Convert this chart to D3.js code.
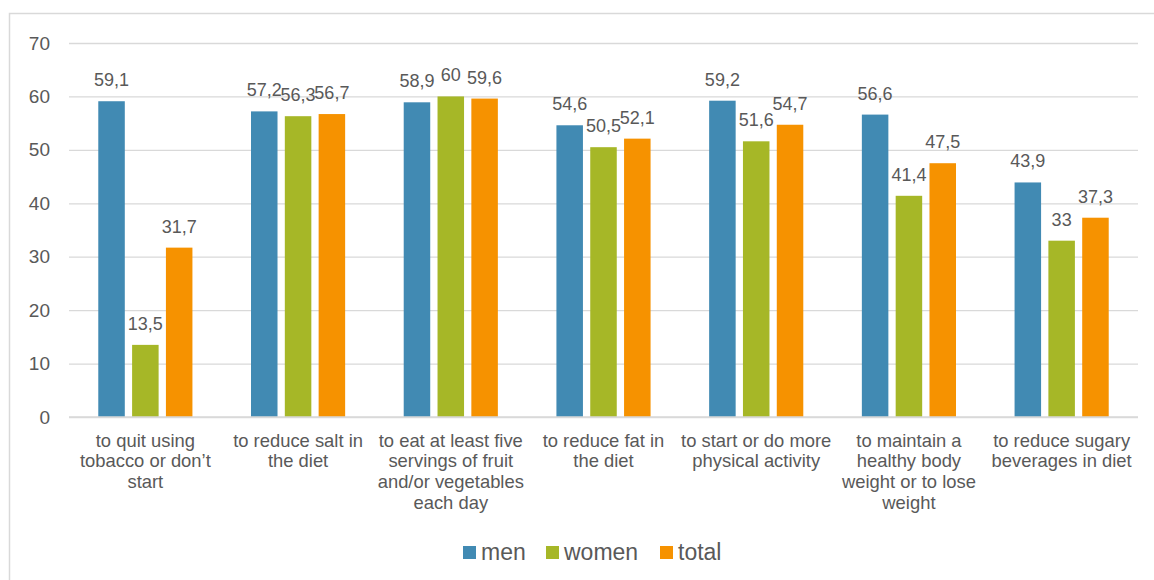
<!DOCTYPE html>
<html><head><meta charset="utf-8">
<script src="https://cdn.jsdelivr.net/npm/d3@7"></script>
<style>
html,body{margin:0;padding:0;background:#fff;}
svg{display:block;font-family:"Liberation Sans",Arial,sans-serif;}
</style></head>
<body>
<script>
const categories = [
  ["to quit using","tobacco or don’t","start"],
  ["to reduce salt in","the diet"],
  ["to eat at least five","servings of fruit","and/or vegetables","each day"],
  ["to reduce fat in","the diet"],
  ["to start or do more","physical activity"],
  ["to maintain a","healthy body","weight or to lose","weight"],
  ["to reduce sugary","beverages in diet"]
];
const seriesNames = ["men","women","total"];
const menValues   = [59.1, 57.2, 58.9, 54.6, 59.2, 56.6, 43.9];
const womenValues = [13.5, 56.3, 60, 50.5, 51.6, 41.4, 33];
const totalValues = [31.7, 56.7, 59.6, 52.1, 54.7, 47.5, 37.3];
const yTicks = [0,10,20,30,40,50,60,70];
const colors = ["#418AB3","#A6B727","#F69200"];

const W = 1154, H = 580;
const svg = d3.select("body").append("svg").attr("width",W).attr("height",H);
const textColor = "#595959";
const gridColor = "#D9D9D9";

// outer border
svg.append("rect").attr("x",9.5).attr("y",13.5).attr("width",W+20).attr("height",H+20)
  .attr("fill","none").attr("stroke",gridColor).attr("stroke-width",1.5);

const plotL = 69, plotR = 1138, plotT = 43, plotB = 417;
const y = d3.scaleLinear().domain([0,70]).range([plotB, plotT]);
const x0 = d3.scaleBand().domain(d3.range(categories.length)).range([plotL, plotR]).padding(0);
const bw = x0.bandwidth();
const groupW = bw * 0.6165;
const x1 = d3.scaleBand().domain(seriesNames).range([0, groupW]).paddingInner(0.216).paddingOuter(0);

// gridlines
const yAxis = d3.axisLeft(y).tickValues(yTicks).tickSize(-(plotR-plotL)).tickPadding(19).tickFormat(d=>String(d));
const ga = svg.append("g").attr("transform",`translate(${plotL},0)`).call(yAxis);
ga.select(".domain").remove();
ga.selectAll(".tick line").attr("stroke",gridColor).attr("stroke-width",1.3);
ga.selectAll(".tick text").attr("fill",textColor).attr("font-size",19).attr("font-family","Liberation Sans, Arial, sans-serif");

const data = [menValues, womenValues, totalValues];

const groups = svg.append("g").selectAll("g").data(categories).join("g")
  .attr("transform",(d,i)=>`translate(${x0(i) + (bw-groupW)/2},0)`);

seriesNames.forEach((s, si) => {
  groups.append("rect")
    .attr("x", x1(s))
    .attr("y", (d,i)=>y(data[si][i]))
    .attr("width", x1.bandwidth())
    .attr("height", (d,i)=>y(0)-y(data[si][i]))
    .attr("fill", colors[si]);
});
seriesNames.forEach((s, si) => {
  groups.append("text")
    .attr("x", x1(s) + x1.bandwidth()/2)
    .attr("y", (d,i)=>y(data[si][i]) - 15)
    .attr("text-anchor","middle")
    .attr("fill", textColor)
    .attr("font-size", 18)
    .text((d,i)=>String(data[si][i]).replace(".",","));
});

// baseline
svg.append("line").attr("x1",plotL).attr("x2",plotR).attr("y1",y(0)).attr("y2",y(0))
  .attr("stroke",gridColor).attr("stroke-width",1.5);

// category labels
const lab = svg.append("g").selectAll("text").data(categories).join("text")
  .attr("text-anchor","middle").attr("fill",textColor).attr("font-size",18.4)
  .attr("x",(d,i)=>x0(i)+bw/2).attr("y",446.5);
lab.selectAll("tspan").data(d=>d).join("tspan")
  .attr("x",function(){return this.parentNode.getAttribute("x");})
  .attr("dy",(d,j)=>j===0?0:20.7)
  .text(d=>d);

// legend
const legendItems = [
  {name:"men", sx:463},
  {name:"women", sx:546},
  {name:"total", sx:660}
];
const lg = svg.append("g");
legendItems.forEach((it, i) => {
  lg.append("rect").attr("x",it.sx).attr("y",546).attr("width",13).attr("height",13).attr("fill",colors[i]);
  lg.append("text").attr("x",it.sx+18).attr("y",560).attr("fill",textColor).attr("font-size",23).text(it.name);
});
</script>
</body></html>
